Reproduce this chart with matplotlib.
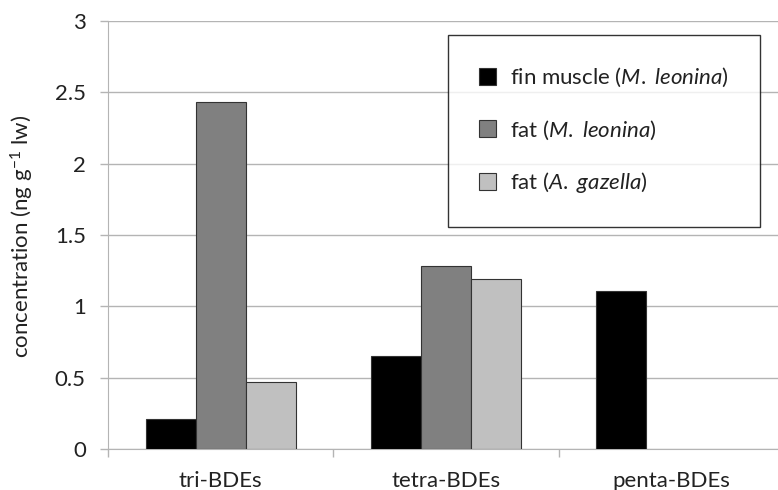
import numpy as np
import matplotlib
matplotlib.use("Agg")
import matplotlib.pyplot as plt

plt.rcParams['font.family'] = ['Lato', 'DejaVu Sans']
plt.rcParams['mathtext.fontset'] = 'custom'
plt.rcParams['mathtext.rm'] = 'Lato'
plt.rcParams['mathtext.it'] = 'Lato:italic'

# ------------------------------------------------------------
# Data
categories = ["tri-BDEs", "tetra-BDEs", "penta-BDEs"]
fin_muscle_leonina = [0.21, 0.65, 1.11]
fat_leonina = [2.43, 1.28, 0.0]
fat_gazella = [0.47, 1.19, 0.0]
series_labels = [r"fin muscle ($\it{M.}$ $\it{leonina}$)",
                 r"fat ($\it{M.}$ $\it{leonina}$)",
                 r"fat ($\it{A.}$ $\it{gazella}$)"]
colors = ["#000000", "#808080", "#c0c0c0"]

fs = 16
txt_col = "#222222"
grid_col = "#b4b4b4"

# ------------------------------------------------------------
# Plot
fig = plt.figure(figsize=(7.78, 4.90), dpi=100)
ax = fig.add_axes([108 / 778, 41 / 490, 676 / 778, 428 / 490])

x = np.arange(len(categories))
w = 0.222
handles = []
for k, (vals, col, lab) in enumerate(zip([fin_muscle_leonina, fat_leonina, fat_gazella],
                                         colors, series_labels)):
    vals = np.array(vals)
    keep = vals > 0
    h = ax.bar(x[keep] + (k - 1) * w, vals[keep], width=w, color=col,
               edgecolor="#333333", linewidth=0.8, label=lab, zorder=3)
    handles.append(h)

ax.set_ylim(0, 3)
ax.set_xlim(-0.5, 2.5)
ax.set_yticks(np.arange(0, 3.01, 0.5))
ax.set_yticklabels(["0", "0.5", "1", "1.5", "2", "2.5", "3"])
ax.yaxis.grid(True, color=grid_col, linewidth=1.0, zorder=0)
ax.set_xticks(x)
ax.set_xticklabels(categories)
ax.set_xticks([-0.5, 0.5, 1.5, 2.5], minor=True)
ax.tick_params(axis="x", which="major", length=0, pad=16, labelsize=fs, labelcolor=txt_col)
ax.tick_params(axis="x", which="minor", length=6, color=grid_col, width=1.0)
ax.tick_params(axis="y", length=6, color=grid_col, width=1.0, pad=10,
               labelsize=fs, labelcolor=txt_col)
for s in ["top", "right"]:
    ax.spines[s].set_visible(False)
ax.spines["left"].set_color(grid_col)
ax.spines["bottom"].set_color(grid_col)
ax.set_axisbelow(True)

fig.text(22 / 778, 1 - 236 / 490, r"concentration (ng g$^{-1}$ lw)", rotation=90,
         ha="center", va="center", fontsize=fs, color=txt_col)

leg = ax.legend(handles=handles, loc="upper left",
                bbox_to_anchor=(448 / 778, 1 - 35 / 490), bbox_transform=fig.transFigure,
                fontsize=fs, frameon=True, fancybox=False, edgecolor="black",
                handlelength=0.78, handleheight=0.78, handletextpad=0.6,
                labelspacing=1.3, borderpad=1.4, borderaxespad=0)
leg.get_frame().set_linewidth(1.0)
for t in leg.get_texts():
    t.set_color(txt_col)
leg.set_zorder(5)

plt.savefig("out.png", dpi=100)
